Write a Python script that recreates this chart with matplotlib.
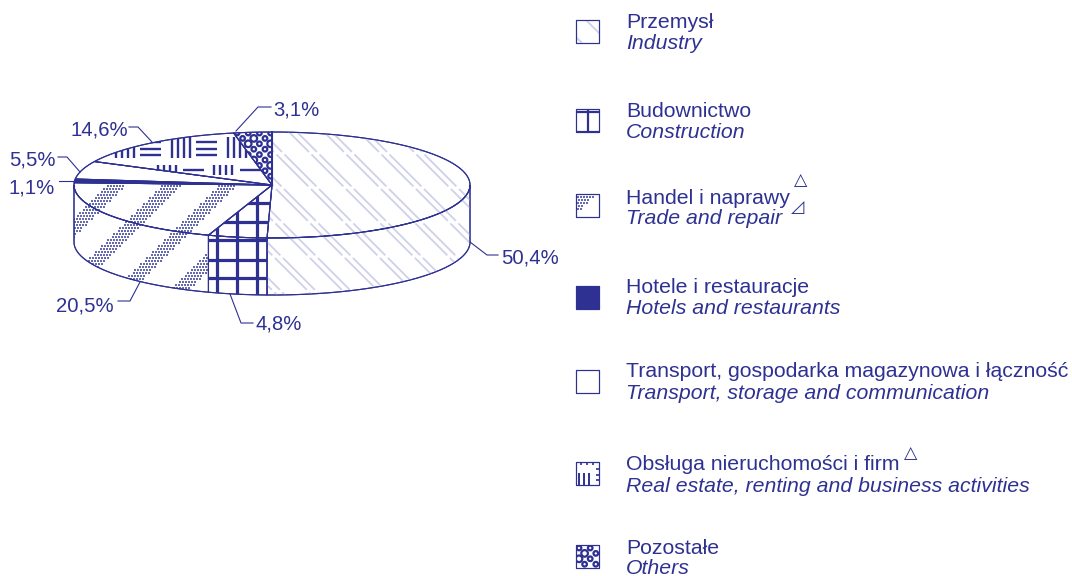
import numpy as np
import matplotlib
matplotlib.use("Agg")
from matplotlib import pyplot as plt
from matplotlib.patches import Polygon, Rectangle

# values of the pie, in percent
names_pl = ["Przemysł", "Budownictwo", "Handel i naprawy", "Hotele i restauracje",
            "Transport, gospodarka magazynowa i łączność", "Obsługa nieruchomości i firm", "Pozostałe"]
names_en = ["Industry", "Construction", "Trade and repair", "Hotels and restaurants",
            "Transport, storage and communication", "Real estate, renting and business activities", "Others"]
shares = [50.4, 4.8, 20.5, 1.1, 5.5, 14.6, 3.1]
share_labels = ["50,4%", "4,8%", "20,5%", "1,1%", "5,5%", "14,6%", "3,1%"]

BLUE = "#2e3192"
PALE = "#cfd0ea"
plt.rcParams['font.family'] = ['Liberation Sans', 'DejaVu Sans']

cx, cy, rx, ry, depth = 272, 185, 198, 53, 57

fig = plt.figure(figsize=(10.72, 5.76), dpi=100)
ax = fig.add_axes([0, 0, 1, 1])
ax.set_xlim(0, 1072)
ax.set_ylim(576, 0)
ax.axis("off")


def clipped_lines(segs, clip, color=BLUE, lw=1.0, z=3, ls="-"):
    for (x0, y0, x1, y1) in segs:
        l, = ax.plot([x0, x1], [y0, y1], color=color, lw=lw, zorder=z, ls=ls, solid_capstyle="butt")
        l.set_clip_path(clip)


def diag_pale(clip, box):
    x0, y0, x1, y1 = box
    segs = []
    for c in np.arange(157 - 35 * 6, 500, 35):
        for d in (0, 8):
            # x - y stays constant on these lines
            segs.append((y0 + c + d, y0, y1 + c + d, y1))
    clipped_lines(segs, clip, color=PALE, lw=1.3, ls=(0, (25, 2)))


def grid_thick(clip, xs, ys, box, lw=2.3):
    x0, y0, x1, y1 = box
    segs = [(x, y0, x, y1) for x in xs] + [(x0, y, x1, y) for y in ys]
    clipped_lines(segs, clip, lw=lw)


def dot_bands(clip, box, top=311, width=19):
    x0, y0, x1, y1 = box
    gx, gy = np.meshgrid(np.arange(x0, x1, 3.0), np.arange(y0, y1, 3.0))
    gx = gx.copy()
    gx[1::2] += 1.5
    gx = gx.ravel()
    gy = gy.ravel()
    m = ((gx + gy - top + width) % 56) < width
    sc = ax.scatter(gx[m], gy[m], s=2.8, marker="s", color=BLUE, alpha=0.72, linewidths=0, zorder=3)
    sc.set_clip_path(clip)


def basket(clip, blocks):
    # each block: left, top, horizontal or not, height
    segs = []
    for (x, y, horiz, h) in blocks:
        if horiz:
            for yy in np.arange(y + 5, y + h, 6.5):
                segs.append((x, yy, x + 21, yy))
        else:
            for xx in np.arange(x + 1, x + 21, 6):
                segs.append((xx, y, xx, y + h))
    clipped_lines(segs, clip, lw=1.7)


def rings(clip, box, offs=(0, 0)):
    x0, y0, x1, y1 = box
    yy = y0 + offs[1]
    row = 0
    while yy < y1:
        xx = x0 + offs[0] + (5.6 if row % 2 else 0)
        while xx < x1:
            big = (row % 4) in (1, 2) and (row + int(xx / 11)) % 2 == 0
            c = plt.Circle((xx, yy), 3.3 if big else 2.3, fill=False, ec=BLUE, lw=1.6, zorder=3)
            ax.add_patch(c)
            c.set_clip_path(clip)
            xx += 11.2
        yy += 5.4
        row += 1


def pts(t):
    return np.column_stack([cx + rx * np.cos(t), cy - ry * np.sin(t)])


# wedges go clockwise from the top of the ellipse
edges = np.radians(90 - np.cumsum([0] + shares) * 3.6)
tops = []
for i in range(len(shares)):
    t = np.linspace(edges[i], edges[i + 1], 120)
    arc = pts(t)
    fc = BLUE if i == 3 else "white"
    p = Polygon(np.vstack([[cx, cy], arc]), closed=True, fc=fc, ec=BLUE, lw=0.8, zorder=2)
    ax.add_patch(p)
    tops.append(p)

# side wall, only the front half of the ellipse shows
walls = {}
for i in range(len(shares)):
    a = min(edges[i], 0.0)
    b = max(edges[i + 1], -np.pi)
    if a <= b:
        continue
    t = np.linspace(a, b, 120)
    arc = pts(t)
    low = arc + [0, depth]
    p = Polygon(np.vstack([arc, low[::-1]]), closed=True, fc="white", ec=BLUE, lw=0.8, zorder=2)
    ax.add_patch(p)
    walls[i] = p

pie_box = (60, 120, 480, 305)
diag_pale(tops[0], pie_box)
diag_pale(walls[0], pie_box)
grid_thick(tops[1], [217, 237, 257], [203, 222], pie_box)
grid_thick(walls[1], [217, 237, 257], [240, 260, 278], pie_box)
dot_bands(tops[2], pie_box)
dot_bands(walls[2], pie_box)

row1 = [(59 + 56 * k, 137, False, 21) for k in range(4)] + [(84 + 56 * k, 137, True, 21) for k in range(3)]
row2 = [(157 + 56 * k, 165, False, 10) for k in range(2)] + [(183 + 57 * k, 165, True, 10) for k in range(2)]
basket(tops[5], row1 + row2)
rings(tops[6], (225, 125, 285, 190), offs=(12, 8))

for p in tops + list(walls.values()):
    outline = Polygon(p.get_xy(), closed=True, fill=False, ec=BLUE, lw=0.8, zorder=4)
    ax.add_patch(outline)
ax.plot([cx, cx], [cy, cy - ry], color=BLUE, lw=1.5, zorder=4)

# leader lines and value labels
leaders = [[(470, 242), (487, 255), (498, 255)],
           [(230, 294), (241, 323), (253, 323)],
           [(140, 282), (130, 301), (118, 301)],
           [(74, 181), (59, 181)],
           [(80, 172), (67, 157), (58, 157)],
           [(152, 142), (138, 127), (129, 127)],
           [(236, 131), (258, 107), (271, 107)]]
label_at = [(501, 263), (255, 329), (56, 311), (9, 193), (9, 166), (70, 135), (273, 115)]
for i in range(len(shares)):
    xy = np.array(leaders[i])
    ax.plot(xy[:, 0], xy[:, 1], color=BLUE, lw=0.8, zorder=5)
    ax.text(label_at[i][0], label_at[i][1], share_labels[i], color=BLUE, fontsize=14.6, va="baseline", ha="left")

# legend
sw_top = [20, 109, 194, 286, 370, 462, 545]
base_pl = [28, 117, 204, 293, 377, 470, 554]
base_en = [49, 138, 224, 314, 399, 492, 574]
sx, sw = 576, 23
for i in range(len(shares)):
    y = sw_top[i]
    fc = BLUE if i == 3 else "white"
    r = Rectangle((sx, y), sw, sw, fc=fc, ec=BLUE, lw=0.8, zorder=2)
    ax.add_patch(r)
    box = (sx, y, sx + sw, y + sw)
    if i == 0:
        for c in (566, 539):
            clipped_lines([(y + c, y, y + sw + c, y + sw)], r, color=PALE, lw=1.3)
    elif i == 1:
        grid_thick(r, [sx + 11.5], [y + 2.5], box, lw=1.6)
        grid_thick(r, [], [y + sw - 0.5], box, lw=2.3)
    elif i == 2:
        dot_bands(r, box, top=791, width=22)
    elif i == 5:
        clipped_lines([(sx + k, y + 11, sx + k, y + sw) for k in (3, 8, 13)], r, lw=1.4)
        clipped_lines([(sx + k, y, sx + k, y + 3) for k in (5, 11, 17)], r, lw=1.2)
        clipped_lines([(sx + sw - 3, y + k, sx + sw, y + k) for k in (7, 13, 18)], r, lw=1.2)
    elif i == 6:
        rings(r, box, offs=(3, 3))
    ax.add_patch(Rectangle((sx, y), sw, sw, fill=False, ec=BLUE, lw=0.8, zorder=4))
    ax.text(626, base_pl[i], names_pl[i], color=BLUE, fontsize=15.3, va="baseline", ha="left")
    ax.text(626, base_en[i], names_en[i], color=BLUE, fontsize=15.3, style="italic", va="baseline", ha="left")

# footnote marks
for (x, y, s) in [(801, 185, "△"), (798, 212, "◿"), (911, 458, "△")]:
    ax.text(x, y, s, color=BLUE, fontsize=12.5, family="DejaVu Sans", ha="center", va="baseline")

fig.savefig("out.png", dpi=100)
